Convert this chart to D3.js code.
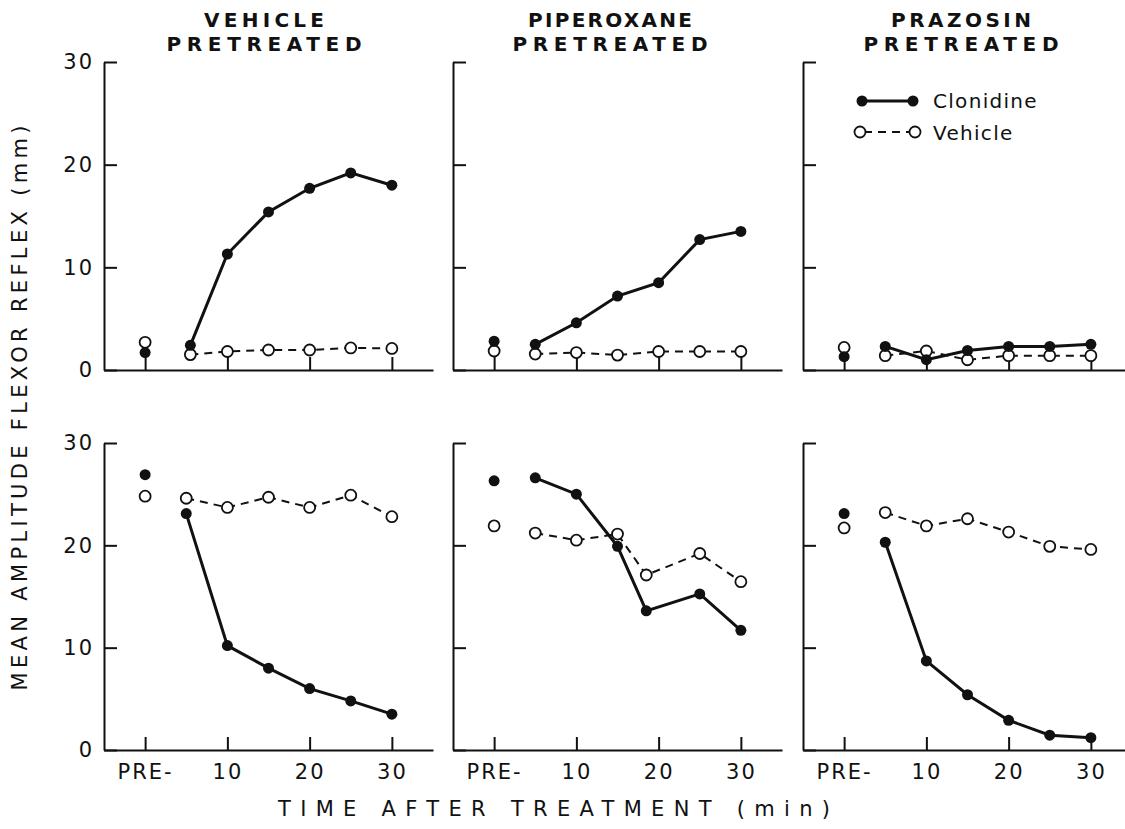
<!DOCTYPE html>
<html>
<head>
<meta charset="utf-8">
<script src="https://cdn.jsdelivr.net/npm/d3@7"></script>
<style>
  body { margin: 0; background: #fff; }
  text { font-family: "DejaVu Sans", sans-serif; fill: #111; }
</style>
</head>
<body>
<script>
// time points (min after treatment, 0 = PRE)
var times = [0, 5, 10, 15, 20, 25, 30];
var timesTopLeft = [0, 5.5, 10, 15, 20, 25, 30];
var timesBottomMid = [0, 5, 10, 15, 18.5, 25, 30];
var tickTimes = [0, 10, 20, 30];
var tickLabels = ["PRE-", "10", "20", "30"];
var yTicks = [0, 10, 20, 30];

var titles1 = ["VEHICLE", "PIPEROXANE", "PRAZOSIN"];
var titles2 = ["PRETREATED", "PRETREATED", "PRETREATED"];

// top row
var clonTopVeh = [1.7, 2.4, 11.3, 15.4, 17.7, 19.2, 18.0];
var vehTopVeh  = [2.7, 1.5, 1.8, 1.95, 1.95, 2.15, 2.1];
var clonTopPip = [2.8, 2.5, 4.6, 7.2, 8.5, 12.7, 13.5];
var vehTopPip  = [1.85, 1.55, 1.7, 1.45, 1.8, 1.8, 1.8];
var clonTopPra = [1.3, 2.3, 1.0, 1.9, 2.3, 2.3, 2.5];
var vehTopPra  = [2.2, 1.4, 1.85, 1.0, 1.4, 1.4, 1.4];
// bottom row
var clonBotVeh = [26.9, 23.1, 10.2, 8.0, 6.0, 4.8, 3.5];
var vehBotVeh  = [24.8, 24.6, 23.7, 24.7, 23.7, 24.9, 22.8];
var clonBotPip = [26.3, 26.6, 25.0, 19.9, 13.6, 15.25, 11.7];
var vehBotPip  = [21.9, 21.2, 20.5, 21.1, 17.1, 19.2, 16.45];
var clonBotPra = [23.1, 20.3, 8.7, 5.4, 2.9, 1.45, 1.2];
var vehBotPra  = [21.7, 23.2, 21.9, 22.6, 21.3, 19.9, 19.6];

var panels = [
  {row: 0, col: 0, t: timesTopLeft, clon: clonTopVeh, veh: vehTopVeh},
  {row: 0, col: 1, t: times, clon: clonTopPip, veh: vehTopPip},
  {row: 0, col: 2, t: times, clon: clonTopPra, veh: vehTopPra},
  {row: 1, col: 0, t: times, clon: clonBotVeh, veh: vehBotVeh},
  {row: 1, col: 1, t: timesBottomMid, clon: clonBotPip, veh: vehBotPip},
  {row: 1, col: 2, t: times, clon: clonBotPra, veh: vehBotPra}
];

var colX = [104, 453, 803],
    rowBase = [370, 750],
    rowTop = [62, 443],
    plotW = 329;

var svg = d3.select("body").append("svg")
    .attr("width", 1125)
    .attr("height", 829);

panels.forEach(function (p) {
  var x = d3.scaleLinear().domain([-5, 35]).range([colX[p.col], colX[p.col] + plotW]);
  var y = d3.scaleLinear().domain([0, 30]).range([rowBase[p.row], rowTop[p.row]]);
  var g = svg.append("g");

  var yAxis = d3.axisLeft(y).tickValues(yTicks).tickSize(-13).tickSizeOuter(0).tickPadding(10);
  if (p.col > 0) yAxis.tickFormat("");
  var ya = g.append("g")
      .attr("transform", "translate(" + colX[p.col] + ",0)")
      .call(yAxis);

  var xAxis = d3.axisBottom(x).tickValues(tickTimes).tickSize(-13).tickSizeOuter(0).tickPadding(14)
      .tickFormat(function (d, i) { return p.row == 1 ? tickLabels[i] : ""; });
  var xa = g.append("g")
      .attr("transform", "translate(0," + rowBase[p.row] + ")")
      .call(xAxis);

  [ya, xa].forEach(function (a) {
    a.selectAll("path, line").attr("stroke", "#111").attr("stroke-width", 2);
    a.selectAll("text")
      .style("font-family", "DejaVu Sans")
      .style("font-size", "21px")
      .style("letter-spacing", "2px")
      .attr("fill", "#111");
  });

  var pts = function (vals) {
    return vals.map(function (v, i) { return {t: p.t[i], v: v}; });
  };
  var line = d3.line().x(function (d) { return x(d.t); }).y(function (d) { return y(d.v); });

  var clonPts = pts(p.clon), vehPts = pts(p.veh);

  g.append("path").datum(clonPts.slice(1))
    .attr("d", line).attr("fill", "none").attr("stroke", "#111").attr("stroke-width", 3);
  g.append("path").datum(vehPts.slice(1))
    .attr("d", line).attr("fill", "none").attr("stroke", "#111").attr("stroke-width", 2)
    .attr("stroke-dasharray", "8,6");

  g.selectAll(".veh").data(vehPts).enter().append("circle")
    .attr("cx", function (d) { return x(d.t); })
    .attr("cy", function (d) { return y(d.v); })
    .attr("r", 5.5)
    .attr("fill", "#fff").attr("stroke", "#111").attr("stroke-width", 1.8);
  g.selectAll(".clon").data(clonPts).enter().append("circle")
    .attr("cx", function (d) { return x(d.t); })
    .attr("cy", function (d) { return y(d.v); })
    .attr("r", 5.5)
    .attr("fill", "#111");
});

// column titles
var titleX = [264, 610, 961];
var titleW1 = [120, 164, 140];
titles1.forEach(function (t, i) {
  svg.append("text").attr("x", titleX[i]).attr("y", 27)
    .attr("text-anchor", "middle")
    .attr("textLength", titleW1[i]).attr("lengthAdjust", "spacing")
    .style("font-size", "20px").style("font-weight", "bold")
    .text(t);
  svg.append("text").attr("x", titleX[i]).attr("y", 51)
    .attr("text-anchor", "middle")
    .attr("textLength", 195).attr("lengthAdjust", "spacing")
    .style("font-size", "20px").style("font-weight", "bold")
    .text(titles2[i]);
});

// legend
var legend = svg.append("g");
legend.append("line").attr("x1", 862).attr("x2", 913).attr("y1", 101).attr("y2", 101)
  .attr("stroke", "#111").attr("stroke-width", 3);
legend.selectAll(".lc").data([862, 913]).enter().append("circle")
  .attr("cx", function (d) { return d; }).attr("cy", 101).attr("r", 5.5).attr("fill", "#111");
legend.append("line").attr("x1", 860).attr("x2", 915).attr("y1", 132).attr("y2", 132)
  .attr("stroke", "#111").attr("stroke-width", 2).attr("stroke-dasharray", "8,6")
  .attr("stroke-dashoffset", -4);
legend.selectAll(".lv").data([860, 915]).enter().append("circle")
  .attr("cx", function (d) { return d; }).attr("cy", 132).attr("r", 5.5)
  .attr("fill", "#fff").attr("stroke", "#111").attr("stroke-width", 1.8);
legend.append("text").attr("x", 933).attr("y", 108)
  .style("font-size", "20px").style("letter-spacing", "1.3px").text("Clonidine");
legend.append("text").attr("x", 933).attr("y", 140)
  .style("font-size", "20px").style("letter-spacing", "1.3px").text("Vehicle");

// axis titles
svg.append("text").attr("x", 554).attr("y", 816)
  .attr("text-anchor", "middle")
  .attr("textLength", 552).attr("lengthAdjust", "spacing")
  .style("font-size", "21px")
  .text("TIME AFTER TREATMENT (min)");
svg.append("text")
  .attr("transform", "translate(27,408) rotate(-90)")
  .attr("text-anchor", "middle")
  .attr("textLength", 565).attr("lengthAdjust", "spacing")
  .style("font-size", "21px")
  .text("MEAN AMPLITUDE FLEXOR REFLEX (mm)");
</script>
</body>
</html>
